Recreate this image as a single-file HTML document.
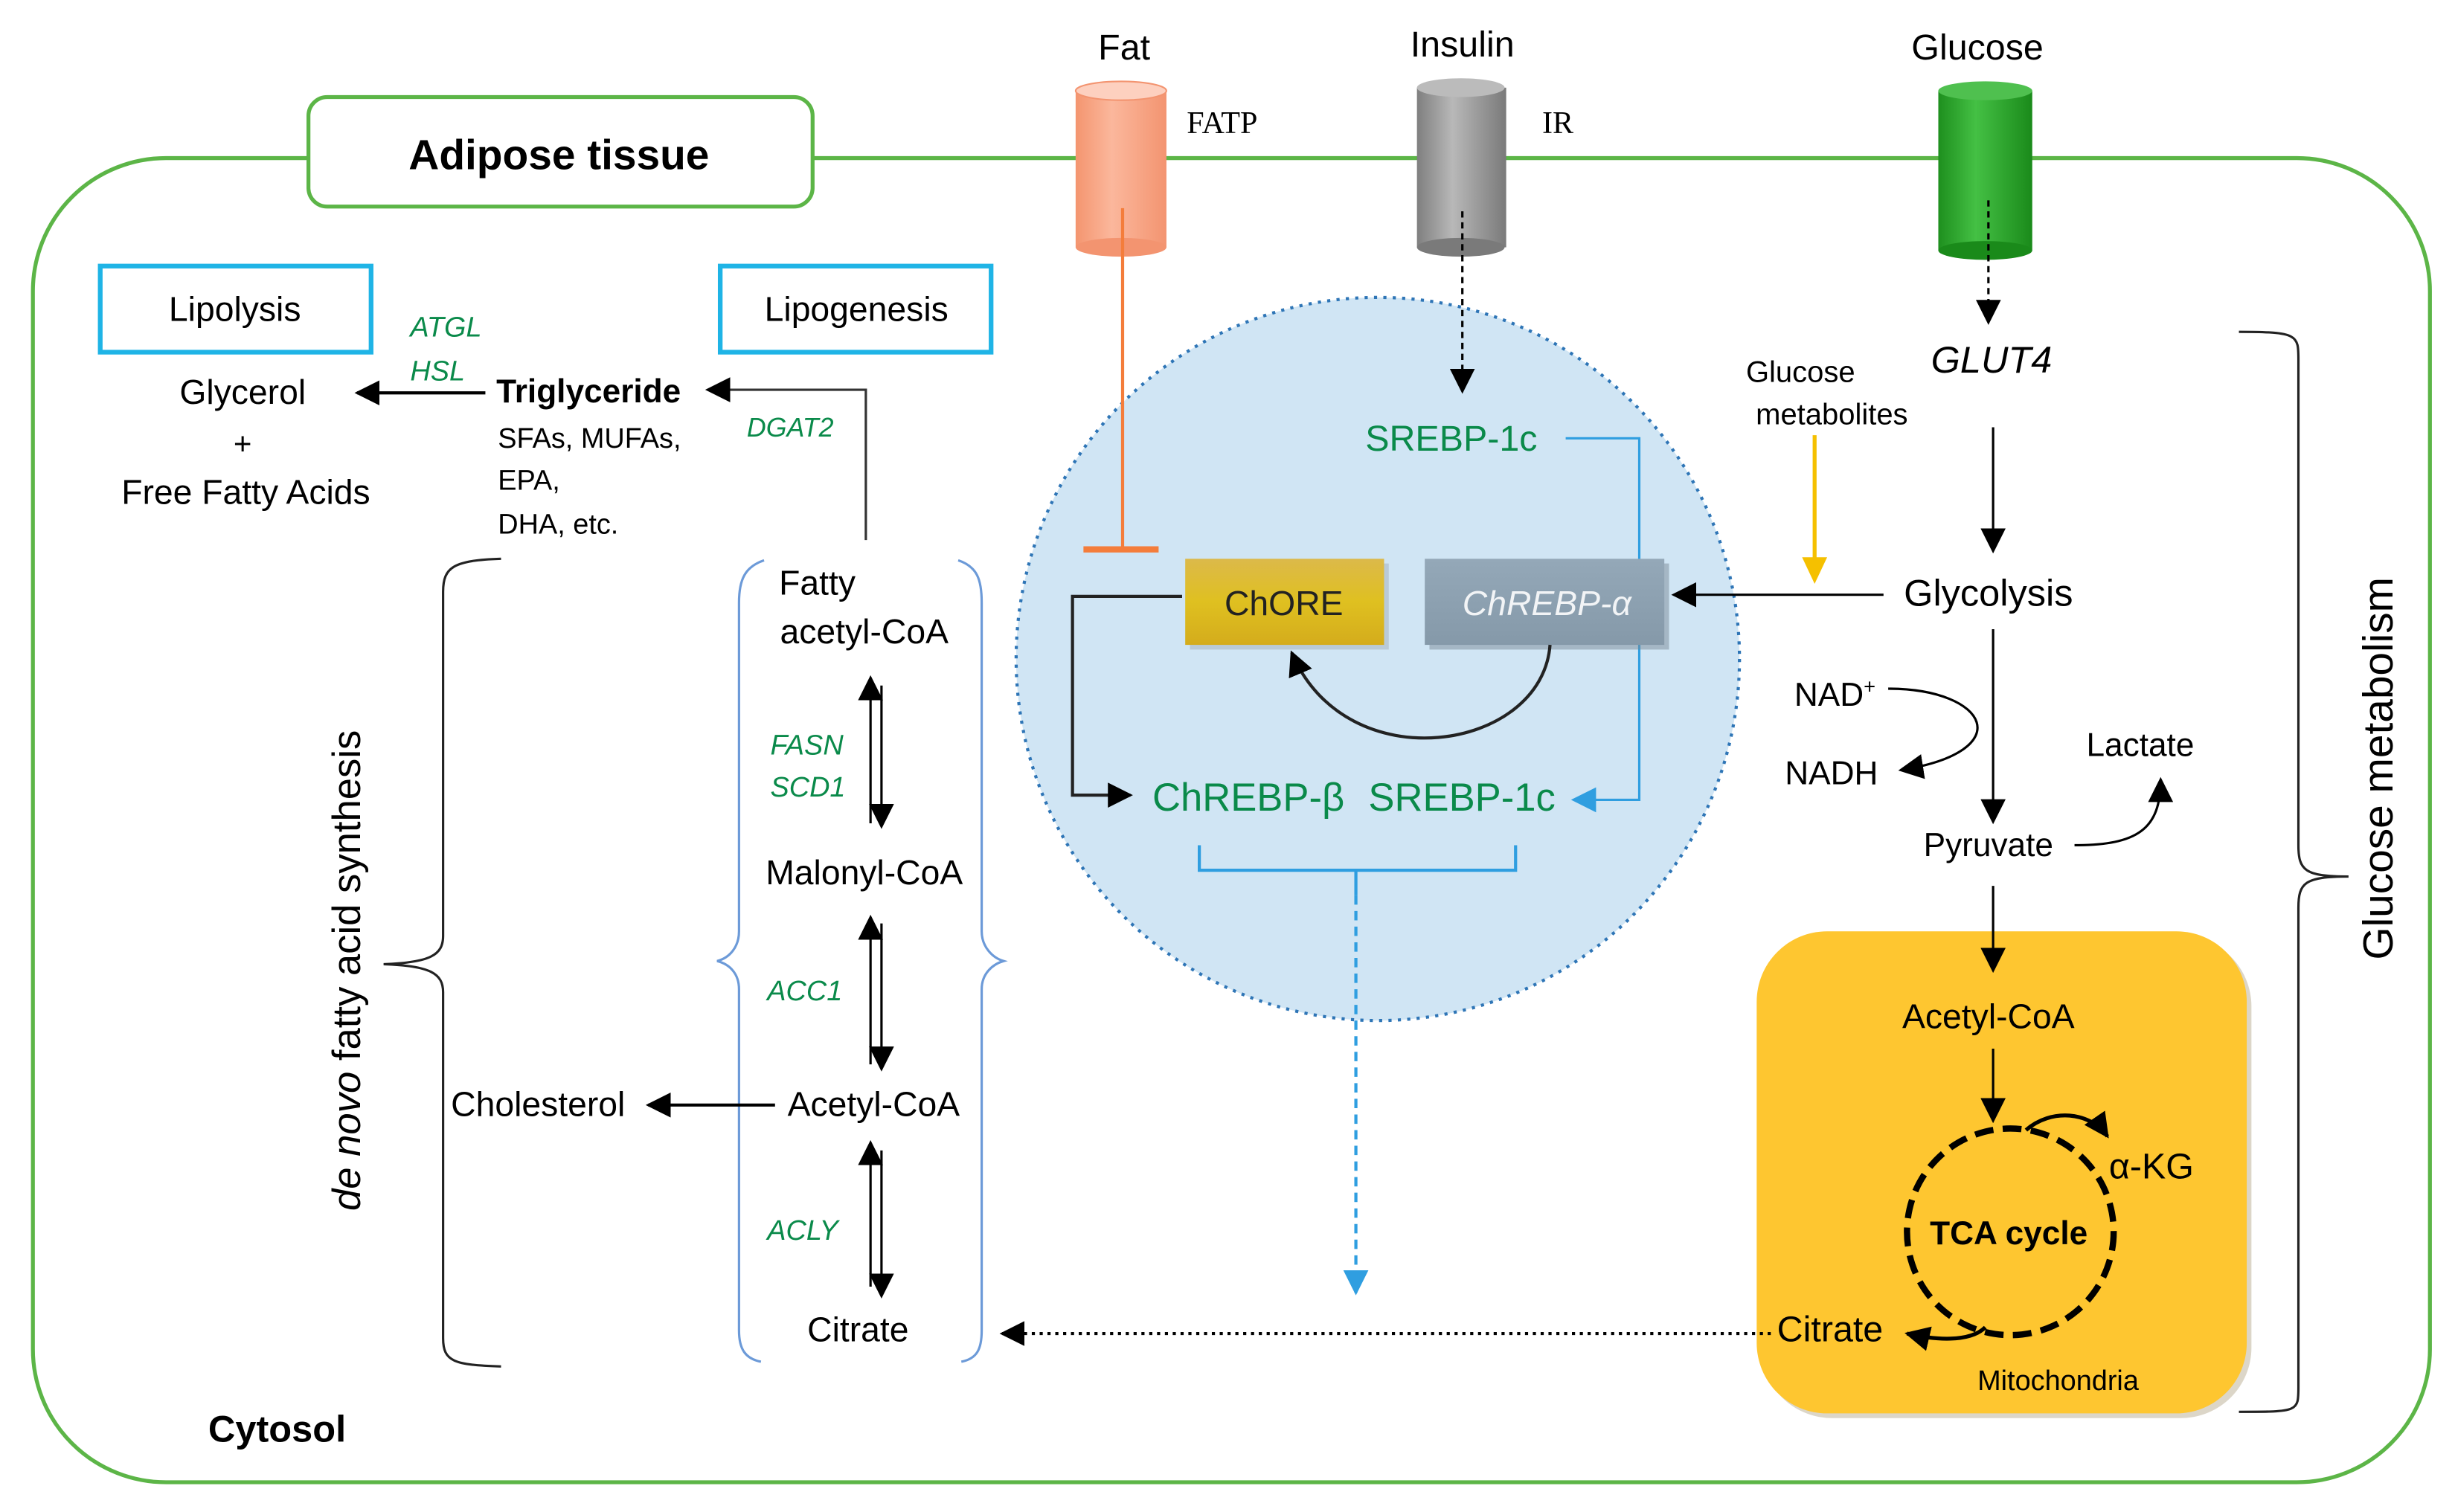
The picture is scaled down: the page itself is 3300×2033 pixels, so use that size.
<!DOCTYPE html>
<html><head><meta charset="utf-8"><style>
html,body{margin:0;padding:0;background:#fff;}
svg{display:block;}
text{font-family:"Liberation Sans","DejaVu Sans",sans-serif;}
</style></head><body>
<svg width="3300" height="2033" viewBox="0 0 1568 966" xmlns="http://www.w3.org/2000/svg">
<defs>
<marker id="ab" viewBox="0 0 10 10" refX="9" refY="5" markerWidth="16" markerHeight="16" orient="auto-start-reverse" markerUnits="userSpaceOnUse"><path d="M0,0 L10,5 L0,10z" fill="#000"/></marker>
<marker id="ablue" viewBox="0 0 10 10" refX="9" refY="5" markerWidth="16" markerHeight="16" orient="auto" markerUnits="userSpaceOnUse"><path d="M0,0 L10,5 L0,10z" fill="#2f9ee0"/></marker>
<linearGradient id="gfat" x1="0" x2="1"><stop offset="0" stop-color="#f4956f"/><stop offset=".4" stop-color="#fbb79c"/><stop offset="1" stop-color="#f39470"/></linearGradient>
<linearGradient id="gins" x1="0" x2="1"><stop offset="0" stop-color="#7f7f7f"/><stop offset=".4" stop-color="#b8b8b8"/><stop offset="1" stop-color="#7a7a7a"/></linearGradient>
<linearGradient id="ggl" x1="0" x2="1"><stop offset="0" stop-color="#1e8f1e"/><stop offset=".4" stop-color="#44c044"/><stop offset="1" stop-color="#1a8a1a"/></linearGradient>
<linearGradient id="gch" x1="0" y1="0" x2="0" y2="1"><stop offset="0" stop-color="#dcb94a"/><stop offset=".5" stop-color="#dfc020"/><stop offset="1" stop-color="#d4ac1c"/></linearGradient>
<linearGradient id="gal" x1="0" y1="0" x2="0" y2="1"><stop offset="0" stop-color="#94a8b8"/><stop offset="1" stop-color="#8599a9"/></linearGradient>
</defs>

<rect x="21" y="101" width="1531" height="846" rx="85" fill="none" stroke="#5cb547" stroke-width="2.5"/>
<rect x="197" y="62" width="322" height="70" rx="12" fill="#fff" stroke="#5cb547" stroke-width="2.5"/>
<text x="357" y="108" font-size="27" font-weight="bold" text-anchor="middle">Adipose tissue</text>

<rect x="687" y="58" width="58" height="100" fill="url(#gfat)"/>
<ellipse cx="716" cy="158" rx="29" ry="6" fill="#f39470"/>
<ellipse cx="716" cy="58" rx="29" ry="6" fill="#fdd0bf" stroke="#f39470"/>
<text x="718" y="38" font-size="23" text-anchor="middle">Fat</text>
<text x="758" y="85" font-size="20" style="font-family:'Liberation Serif',serif">FATP</text>

<rect x="905" y="56" width="57" height="102" fill="url(#gins)"/>
<ellipse cx="933" cy="158" rx="28" ry="6" fill="#7a7a7a"/>
<ellipse cx="933" cy="56" rx="28" ry="6" fill="#bbb"/>
<text x="934" y="36" font-size="23" text-anchor="middle">Insulin</text>
<text x="985" y="85" font-size="20" style="font-family:'Liberation Serif',serif">IR</text>

<rect x="1238" y="58" width="60" height="102" fill="url(#ggl)"/>
<ellipse cx="1268" cy="160" rx="30" ry="6" fill="#1a8a1a"/>
<ellipse cx="1268" cy="58" rx="30" ry="6" fill="#4fc04f"/>
<text x="1263" y="38" font-size="23" text-anchor="middle">Glucose</text>

<circle cx="880" cy="421" r="231" fill="#d0e5f4" stroke="#2e75b6" stroke-width="2" stroke-dasharray="2,4"/>

<line x1="717" y1="133" x2="717" y2="351" stroke="#f47d3b" stroke-width="2"/>
<line x1="692" y1="351" x2="740" y2="351" stroke="#f47d3b" stroke-width="4"/>

<line x1="934" y1="135" x2="934" y2="250" stroke="#000" stroke-width="1.5" stroke-dasharray="4,3" marker-end="url(#ab)"/>
<text x="872" y="288" font-size="23" fill="#0a8a4a">SREBP-1c</text>
<polyline points="1000,280 1047,280 1047,511 1005,511" fill="none" stroke="#2f9ee0" stroke-width="1.5" marker-end="url(#ablue)"/>

<rect x="760" y="360" width="127" height="55" fill="#aab7c3" opacity=".6"/>
<rect x="757" y="357" width="127" height="55" fill="url(#gch)"/>
<text x="820" y="393" font-size="22" text-anchor="middle" fill="#222">ChORE</text>
<rect x="913" y="360" width="153" height="55" fill="#7a8a96" opacity=".5"/>
<rect x="910" y="357" width="153" height="55" fill="url(#gal)"/>
<text x="988" y="393" font-size="22" text-anchor="middle" fill="#f2f4f6" font-style="italic">ChREBP-α</text>
<path d="M990,412 C985,480 860,500 825,417" fill="none" stroke="#222" stroke-width="2" marker-end="url(#ab)"/>
<polyline points="755,381 685,381 685,508 722,508" fill="none" stroke="#222" stroke-width="2" marker-end="url(#ab)"/>
<text x="736" y="518" font-size="25" fill="#0a8a4a">ChREBP-β</text>
<text x="874" y="518" font-size="25" fill="#0a8a4a">SREBP-1c</text>
<path d="M766,540 L766,556 L968,556 L968,540 M866,556 L866,572" fill="none" stroke="#2f9ee0" stroke-width="2"/>
<line x1="866" y1="572" x2="866" y2="826" stroke="#2f9ee0" stroke-width="2" stroke-dasharray="6,4" marker-end="url(#ablue)"/>

<line x1="1270" y1="128" x2="1270" y2="206" stroke="#000" stroke-width="1.5" stroke-dasharray="4,3" marker-end="url(#ab)"/>
<text x="1272" y="238" font-size="24" font-style="italic" text-anchor="middle">GLUT4</text>
<text x="1150" y="244" font-size="19" text-anchor="middle">Glucose</text>
<text x="1170" y="271" font-size="19" text-anchor="middle">metabolites</text>
<line x1="1159" y1="278" x2="1159" y2="360" stroke="#f5c000" stroke-width="2.5"/>
<path d="M1151,356 L1159,373 L1167,356z" fill="#f5c000"/>
<line x1="1273" y1="273" x2="1273" y2="352" stroke="#000" stroke-width="1.5" marker-end="url(#ab)"/>
<text x="1270" y="387" font-size="24" text-anchor="middle">Glycolysis</text>
<line x1="1203" y1="380" x2="1069" y2="380" stroke="#000" stroke-width="1.5" marker-end="url(#ab)"/>
<line x1="1273" y1="402" x2="1273" y2="525" stroke="#000" stroke-width="1.5" marker-end="url(#ab)"/>
<text x="1146" y="451" font-size="21">NAD<tspan font-size="13" dy="-8">+</tspan></text>
<path d="M1206,440 C1270,440 1290,480 1214,492" fill="none" stroke="#000" stroke-width="1.5" marker-end="url(#ab)"/>
<text x="1140" y="501" font-size="21">NADH</text>
<text x="1367" y="483" font-size="21" text-anchor="middle">Lactate</text>
<path d="M1325,540 C1365,540 1380,530 1380,498" fill="none" stroke="#000" stroke-width="1.5" marker-end="url(#ab)"/>
<text x="1270" y="547" font-size="21" text-anchor="middle">Pyruvate</text>

<rect x="1125" y="598" width="313" height="308" rx="45" fill="#9a8a60" opacity=".35"/>
<rect x="1122" y="595" width="313" height="308" rx="45" fill="#fec630"/>
<line x1="1273" y1="566" x2="1273" y2="620" stroke="#000" stroke-width="1.5" marker-end="url(#ab)"/>
<text x="1270" y="657" font-size="22" text-anchor="middle">Acetyl-CoA</text>
<line x1="1273" y1="670" x2="1273" y2="716" stroke="#000" stroke-width="1.5" marker-end="url(#ab)"/>
<circle cx="1284" cy="787" r="66" fill="none" stroke="#000" stroke-width="4" stroke-dasharray="12,6"/>
<text x="1283" y="795" font-size="21" font-weight="bold" text-anchor="middle">TCA cycle</text>
<path d="M1294,722 C1310,708 1335,710 1346,726" fill="none" stroke="#000" stroke-width="2.5" marker-end="url(#ab)"/>
<text x="1347" y="753" font-size="23">α-KG</text>
<path d="M1268,848 C1258,858 1235,856 1218,852" fill="none" stroke="#000" stroke-width="2.5" marker-end="url(#ab)"/>
<text x="1135" y="857" font-size="23">Citrate</text>
<text x="1263" y="888" font-size="18">Mitochondria</text>
<line x1="1131" y1="852" x2="640" y2="852" stroke="#000" stroke-width="2" stroke-dasharray="2,3" marker-end="url(#ab)"/>

<path d="M1430,212 C1468,212 1468,214 1468,230 L1468,540 C1468,556 1472,560 1500,560 C1472,560 1468,564 1468,580 L1468,886 C1468,902 1468,902 1430,902" fill="none" stroke="#222" stroke-width="1.5"/>
<text transform="translate(1528,491) rotate(-90)" font-size="27" text-anchor="middle">Glucose metabolism</text>

<rect x="64" y="170" width="173" height="55" fill="none" stroke="#1fb4e6" stroke-width="3"/>
<text x="150" y="205" font-size="22" text-anchor="middle">Lipolysis</text>
<rect x="460" y="170" width="173" height="55" fill="none" stroke="#1fb4e6" stroke-width="3"/>
<text x="547" y="205" font-size="22" text-anchor="middle">Lipogenesis</text>
<text x="262" y="215" font-size="18" font-style="italic" fill="#0a8a4a">ATGL</text>
<text x="262" y="243" font-size="18" font-style="italic" fill="#0a8a4a">HSL</text>
<text x="155" y="258" font-size="22" text-anchor="middle">Glycerol</text>
<text x="155" y="290" font-size="20" text-anchor="middle">+</text>
<text x="157" y="322" font-size="22" text-anchor="middle">Free Fatty Acids</text>
<line x1="310" y1="251" x2="228" y2="251" stroke="#000" stroke-width="2" marker-end="url(#ab)"/>
<text x="317" y="257" font-size="21" font-weight="bold">Triglyceride</text>
<text x="318" y="286" font-size="18">SFAs, MUFAs,</text>
<text x="318" y="313" font-size="18">EPA,</text>
<text x="318" y="341" font-size="18">DHA, etc.</text>
<polyline points="553,345 553,249 452,249" fill="none" stroke="#333" stroke-width="1.5" marker-end="url(#ab)"/>
<text x="477" y="279" font-size="17" font-style="italic" fill="#0a8a4a">DGAT2</text>

<path d="M488,358 C476,362 472,370 472,385 L472,595 C472,605 466,612 458,614 C466,616 472,622 472,632 L472,850 C472,862 476,868 486,870" fill="none" stroke="#6c9ad8" stroke-width="1.5"/>
<path d="M612,358 C624,362 627,370 627,385 L627,595 C627,605 634,612 641,614 C634,616 627,622 627,632 L627,850 C627,862 624,868 614,870" fill="none" stroke="#6c9ad8" stroke-width="1.5"/>
<text x="522" y="380" font-size="22" text-anchor="middle">Fatty</text>
<text x="552" y="411" font-size="22" text-anchor="middle">acetyl-CoA</text>
<text x="552" y="565" font-size="22" text-anchor="middle">Malonyl-CoA</text>
<text x="558" y="713" font-size="22" text-anchor="middle">Acetyl-CoA</text>
<text x="548" y="857" font-size="22" text-anchor="middle">Citrate</text>
<line x1="556" y1="526" x2="556" y2="433" stroke="#000" stroke-width="1.5" marker-end="url(#ab)"/>
<line x1="563" y1="438" x2="563" y2="528" stroke="#000" stroke-width="1.5" marker-end="url(#ab)"/>
<line x1="556" y1="680" x2="556" y2="586" stroke="#000" stroke-width="1.5" marker-end="url(#ab)"/>
<line x1="563" y1="590" x2="563" y2="683" stroke="#000" stroke-width="1.5" marker-end="url(#ab)"/>
<line x1="556" y1="822" x2="556" y2="730" stroke="#000" stroke-width="1.5" marker-end="url(#ab)"/>
<line x1="563" y1="735" x2="563" y2="828" stroke="#000" stroke-width="1.5" marker-end="url(#ab)"/>
<text x="492" y="482" font-size="18" font-style="italic" fill="#0a8a4a">FASN</text>
<text x="492" y="509" font-size="18" font-style="italic" fill="#0a8a4a">SCD1</text>
<text x="490" y="639" font-size="18" font-style="italic" fill="#0a8a4a">ACC1</text>
<text x="490" y="792" font-size="18" font-style="italic" fill="#0a8a4a">ACLY</text>
<line x1="495" y1="706" x2="414" y2="706" stroke="#000" stroke-width="2" marker-end="url(#ab)"/>
<text x="288" y="713" font-size="22">Cholesterol</text>

<path d="M320,357 C290,358 283,362 283,378 L283,598 C283,610 275,615 245,616 C275,617 283,622 283,634 L283,855 C283,870 290,872 320,873" fill="none" stroke="#222" stroke-width="1.5"/>
<text transform="translate(230,620) rotate(-90)" font-size="25" text-anchor="middle"><tspan font-style="italic">de novo</tspan> fatty acid synthesis</text>

<text x="133" y="921" font-size="24" font-weight="bold">Cytosol</text>
</svg>
</body></html>
